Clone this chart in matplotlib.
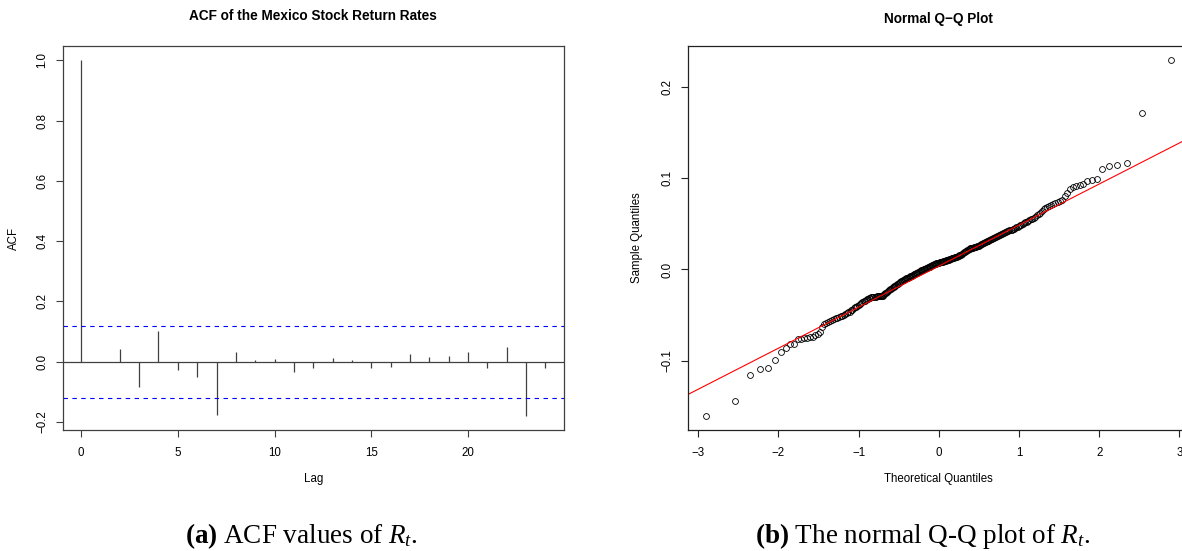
import matplotlib.pyplot as plt
import numpy as np
from statistics import NormalDist

plt.rcParams['font.family'] = ['Liberation Sans', 'DejaVu Sans']
plt.rcParams['mathtext.fontset'] = 'custom'
plt.rcParams['mathtext.rm'] = 'Liberation Serif'
plt.rcParams['mathtext.it'] = 'Liberation Serif:italic'
plt.rcParams['mathtext.bf'] = 'Liberation Serif:bold'

# ACF of the return rates, lags 0..24
lags = np.arange(25)
acf_vals = [1.0, -0.002, 0.041, -0.083, 0.102, -0.026, -0.049, -0.175, 0.034, 0.007,
            0.010, -0.033, -0.019, 0.013, 0.006, -0.020, -0.017, 0.026, 0.017, 0.018,
            0.034, -0.022, 0.050, -0.179, -0.019]
conf = 0.12

# sorted sample values
sample_q = [
    -0.160, -0.144, -0.115, -0.109, -0.108, -0.0986, -0.0905, -0.0854, -0.0814, -0.0810, -0.0760,
    -0.0755, -0.0750, -0.0745, -0.0740, -0.0735, -0.0720, -0.0705, -0.0680, -0.0630, -0.0600, -0.0580,
    -0.0575, -0.0565, -0.0555, -0.0545, -0.0535, -0.0528, -0.0520, -0.0512, -0.0505, -0.0498,
    -0.0490, -0.0480, -0.0470, -0.0460, -0.0448, -0.0438, -0.0425, -0.0415, -0.0405, -0.0395,
    -0.0385, -0.0375, -0.0365, -0.0357, -0.0350, -0.0342, -0.0335, -0.0328, -0.0322, -0.0316,
    -0.0310, -0.0306, -0.0303, -0.0300, -0.0298, -0.0296, -0.0294, -0.0293, -0.0292, -0.0291,
    -0.0290, -0.0288, -0.0285, -0.0278, -0.0270, -0.0262, -0.0252, -0.0242, -0.0232, -0.0224,
    -0.0216, -0.0208, -0.0200, -0.0194, -0.0188, -0.0182, -0.0176, -0.0170, -0.0164, -0.0158,
    -0.0150, -0.0142, -0.0135, -0.0129, -0.0124, -0.0118, -0.0113, -0.0108, -0.0103, -0.0098,
    -0.0093, -0.0088, -0.0083, -0.0079, -0.0075, -0.0071, -0.0066, -0.0061, -0.0056, -0.0051,
    -0.0046, -0.0041, -0.0037, -0.0033, -0.0029, -0.0024, -0.0019, -0.0014, -0.0010, -0.0006,
    -0.0003, 0.0000, 0.0004, 0.0008, 0.0012, 0.0016, 0.0020, 0.0024, 0.0028, 0.0032,
    0.0036, 0.0040, 0.0044, 0.0049, 0.0054, 0.0057, 0.0060, 0.0063, 0.0066, 0.0069,
    0.0072, 0.0075,
    0.0078, 0.0081, 0.0083, 0.0085, 0.0087, 0.0090, 0.0092, 0.0094, 0.0097, 0.0100,
    0.0103, 0.0106, 0.0109, 0.0112, 0.0115, 0.0118, 0.0121, 0.0124, 0.0127, 0.0130,
    0.0133, 0.0136, 0.0139, 0.0142, 0.0146, 0.0150, 0.0154, 0.0158, 0.0163, 0.0168,
    0.0174, 0.0180, 0.0186, 0.0192, 0.0198, 0.0204, 0.0210, 0.0215, 0.0220, 0.0225,
    0.0230, 0.0233, 0.0236, 0.0239, 0.0242, 0.0245, 0.0248, 0.0251, 0.0254, 0.0258,
    0.0262, 0.0266, 0.0270, 0.0275, 0.0280, 0.0286, 0.0292, 0.0297, 0.0302, 0.0307,
    0.0312, 0.0317, 0.0322, 0.0327, 0.0332, 0.0337, 0.0342, 0.0347, 0.0352, 0.0357,
    0.0362, 0.0368, 0.0374, 0.0380, 0.0386, 0.0392, 0.0398, 0.0404, 0.0410, 0.0415,
    0.0420, 0.0424, 0.0428, 0.0432, 0.0437, 0.0442, 0.0448, 0.0454, 0.0460, 0.0468,
    0.0476, 0.0484, 0.0492, 0.0500, 0.0508, 0.0516, 0.0524, 0.0532, 0.0540, 0.0548,
    0.0556, 0.0565, 0.0578, 0.0592, 0.0606, 0.0621, 0.0640, 0.0660, 0.0676, 0.0688,
    0.0698, 0.0708, 0.0718, 0.0728, 0.0737, 0.0745, 0.0760, 0.0800, 0.0840, 0.0885,
    0.0900, 0.0912, 0.0925, 0.0940, 0.0968, 0.0975, 0.0985, 0.1100, 0.1128, 0.1140,
    0.1164, 0.1712, 0.2289,
]

W, H = 1182, 551
fig = plt.figure(figsize=(W / 100, H / 100), dpi=100)
fs = 8.3


def fmt(v):
    return f"{v:.1f}".replace('-', '\u2212')


def r_style(ax, col):
    for s in ax.spines.values():
        s.set_color(col)
        s.set_linewidth(0.9)
    ax.tick_params(direction='out', length=5, width=0.8, color=col, labelsize=fs, pad=5)
    ax.tick_params(axis='x', pad=7)
    ax.tick_params(axis='y', labelrotation=90)
    for lbl in ax.get_yticklabels():
        lbl.set_va('center')


# (a) ACF
ax1 = fig.add_axes([62.5 / W, (H - 430) / H, 501.5 / W, 384 / H])
c1 = '#404040'
ax1.vlines(lags, 0, acf_vals, color=c1, lw=0.9)
ax1.axhline(0, color=c1, lw=0.9)
ax1.axhline(conf, color='#0000ff', lw=0.8, ls=(0, (4, 4)))
ax1.axhline(-conf, color='#0000ff', lw=0.8, ls=(0, (4, 4)))
ax1.set_xlim(-0.96, 24.96)
lo = min(min(acf_vals), -conf)
hi = max(max(acf_vals), conf)
pad = 0.04 * (hi - lo)
ax1.set_ylim(lo - pad, hi + pad)
xt = [0, 5, 10, 15, 20]
ax1.set_xticks(xt, labels=[str(v) for v in xt])
yt = [-0.2, 0.0, 0.2, 0.4, 0.6, 0.8, 1.0]
ax1.set_yticks(yt, labels=[fmt(v) for v in yt])
r_style(ax1, c1)
ax1.set_title('ACF of the Mexico Stock Return Rates', fontsize=9.8, fontweight='bold',
              y=1 + 30.5 / 384, va='center', pad=0)
ax1.set_xlabel('Lag', fontsize=fs, va='center')
ax1.xaxis.set_label_coords(0.5, -49 / 384)
ax1.set_ylabel('ACF', fontsize=fs, va='center')
ax1.yaxis.set_label_coords(-48.5 / 501.5, 0.5)

# (b) normal Q-Q plot
n = len(sample_q)
nd = NormalDist()
pp = (np.arange(1, n + 1) - 0.5) / n
theo = np.array([nd.inv_cdf(p) for p in pp])
samp = np.array(sample_q)

ax2 = fig.add_axes([687.7 / W, (H - 430) / H, 502.1 / W, 384 / H])
c2 = '#222222'
ax2.plot(theo, samp, 'o', mfc='none', mec='black', ms=4.2, mew=0.6)
qy = np.quantile(samp, [0.25, 0.75])
qx = np.array([nd.inv_cdf(0.25), nd.inv_cdf(0.75)])
slope = (qy[1] - qy[0]) / (qx[1] - qx[0])
icpt = qy[0] - slope * qx[0]
ax2.axline((0, icpt), slope=slope, color='#ff0000', lw=0.8)
pad = 0.04 * (theo.max() - theo.min())
ax2.set_xlim(theo.min() - pad, theo.max() + pad)
pad = 0.04 * (samp.max() - samp.min())
ax2.set_ylim(samp.min() - pad, samp.max() + pad)
xt = [-3, -2, -1, 0, 1, 2, 3]
ax2.set_xticks(xt, labels=[str(v).replace('-', '\u2212') for v in xt])
yt = [-0.1, 0.0, 0.1, 0.2]
ax2.set_yticks(yt, labels=[fmt(v) for v in yt])
r_style(ax2, c2)
ax2.set_title('Normal Q\u2212Q Plot', fontsize=9.8, fontweight='bold',
              y=1 + 27.5 / 384, va='center', pad=0)
ax2.set_xlabel('Theoretical Quantiles', fontsize=fs, va='center')
ax2.xaxis.set_label_coords(0.5, -49 / 384)
ax2.set_ylabel('Sample Quantiles', fontsize=fs, va='center')
ax2.yaxis.set_label_coords(-50.7 / 502.1, 0.5)

# captions
fig.text(301 / W, 1 - 536 / H, r'$\mathbf{(a)}$ ACF values of $R_t$.', ha='center', va='center',
         fontsize=19.5, family='Liberation Serif')
fig.text(923 / W, 1 - 536 / H, r'$\mathbf{(b)}$ The normal Q-Q plot of $R_t$.', ha='center',
         va='center', fontsize=19.5, family='Liberation Serif')

fig.savefig('out.png', dpi=100)
